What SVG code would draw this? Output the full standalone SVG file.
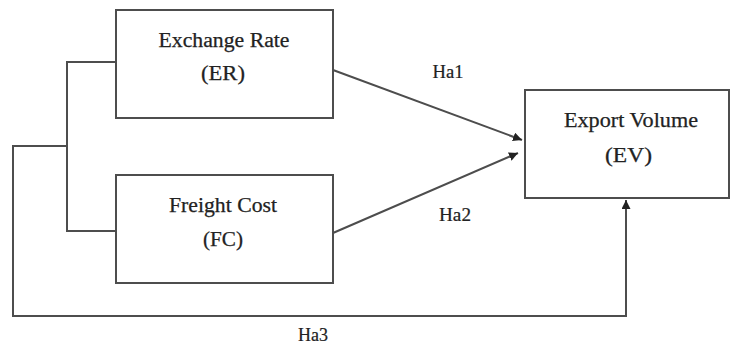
<svg xmlns="http://www.w3.org/2000/svg" width="730" height="344" viewBox="0 0 730 344">
<defs>
<marker id="arr" viewBox="0 0 10 10" refX="10" refY="5" markerWidth="9" markerHeight="9" markerUnits="userSpaceOnUse" orient="auto">
<path d="M0,0 L10,5 L0,10 z" fill="#222"/>
</marker>
</defs>
<style>
.box{fill:#fff;stroke:#4d4d4d;stroke-width:2}
.ln{fill:none;stroke:#4d4d4d;stroke-width:2}
.t{font-family:"Liberation Serif","Times New Roman",serif;font-size:20px;fill:#222;stroke:#222;stroke-width:0.25;text-anchor:middle}
.l{font-family:"Liberation Serif","Times New Roman",serif;font-size:18px;fill:#222;stroke:#222;stroke-width:0.2;text-anchor:middle}
</style>
<rect width="730" height="344" fill="#fff"/>
<g id="connectors">
<polyline class="ln" points="116,62 67,62 67,231 116,231"/>
<polyline class="ln" points="67,146 13,146 13,316 626,316 626,200" marker-end="url(#arr)"/>
<line class="ln" x1="333" y1="70" x2="522" y2="140" marker-end="url(#arr)"/>
<line class="ln" x1="333" y1="233" x2="518" y2="153" marker-end="url(#arr)"/>
<text class="l" x="448" y="78" textLength="31" lengthAdjust="spacingAndGlyphs">Ha1</text>
<text class="l" x="455" y="221" textLength="32" lengthAdjust="spacingAndGlyphs">Ha2</text>
<text class="l" x="313" y="341" textLength="30" lengthAdjust="spacingAndGlyphs">Ha3</text>
</g>
<g id="er">
<rect class="box" x="116" y="10" width="217" height="108"/>
<text class="t" x="224" y="47" textLength="131" lengthAdjust="spacingAndGlyphs">Exchange Rate</text>
<text class="t" x="223" y="80" textLength="44" lengthAdjust="spacingAndGlyphs">(ER)</text>
</g>
<g id="fc">
<rect class="box" x="116" y="175" width="217" height="108"/>
<text class="t" x="223" y="212" textLength="108" lengthAdjust="spacingAndGlyphs">Freight Cost</text>
<text class="t" x="223" y="246" textLength="40" lengthAdjust="spacingAndGlyphs">(FC)</text>
</g>
<g id="ev">
<rect class="box" x="525" y="90" width="204" height="108"/>
<text class="t" x="631" y="127" textLength="134" lengthAdjust="spacingAndGlyphs">Export Volume</text>
<text class="t" x="628.5" y="162" textLength="47" lengthAdjust="spacingAndGlyphs">(EV)</text>
</g>
</svg>
